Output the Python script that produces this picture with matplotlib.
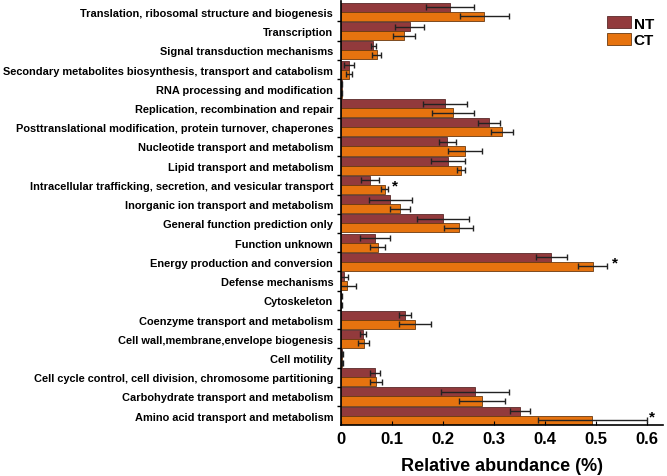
import numpy as np
import matplotlib
matplotlib.use("Agg")
import matplotlib.pyplot as plt

# categories listed top -> bottom as in the figure
categories = [
    "Translation, ribosomal structure and biogenesis",
    "Transcription",
    "Signal transduction mechanisms",
    "Secondary metabolites biosynthesis, transport and catabolism",
    "RNA processing and modification",
    "Replication, recombination and repair",
    "Posttranslational modification, protein turnover, chaperones",
    "Nucleotide transport and metabolism",
    "Lipid transport and metabolism",
    "Intracellular trafficking, secretion, and vesicular transport",
    "Inorganic ion transport and metabolism",
    "General function prediction only",
    "Function unknown",
    "Energy production and conversion",
    "Defense mechanisms",
    "Cytoskeleton",
    "Coenzyme transport and metabolism",
    "Cell wall,membrane,envelope biogenesis",
    "Cell motility",
    "Cell cycle control, cell division, chromosome partitioning",
    "Carbohydrate transport and metabolism",
    "Amino acid transport and metabolism",
]

nt_mean = [0.214, 0.135, 0.064, 0.016, 0.002, 0.205, 0.291, 0.209, 0.210, 0.057,
           0.097, 0.200, 0.067, 0.413, 0.006, 0.001, 0.126, 0.043, 0.003, 0.067,
           0.263, 0.352]
nt_err = [0.047, 0.029, 0.005, 0.010, 0.001, 0.043, 0.022, 0.017, 0.034, 0.018,
          0.042, 0.051, 0.029, 0.031, 0.008, 0.001, 0.011, 0.006, 0.001, 0.009,
          0.066, 0.020]
ct_mean = [0.281, 0.124, 0.070, 0.016, 0.002, 0.220, 0.316, 0.244, 0.235, 0.086,
           0.116, 0.231, 0.072, 0.494, 0.013, 0.001, 0.146, 0.045, 0.003, 0.069,
           0.277, 0.493]
ct_err = [0.048, 0.022, 0.009, 0.005, 0.001, 0.041, 0.022, 0.033, 0.008, 0.007,
          0.020, 0.029, 0.015, 0.028, 0.017, 0.001, 0.031, 0.011, 0.001, 0.012,
          0.045, 0.107]

# significance marks: (category, x position)
stars = [("Intracellular trafficking, secretion, and vesicular transport", 0.107),
         ("Energy production and conversion", 0.537),
         ("Amino acid transport and metabolism", 0.610)]

nt_color = "#923a3c"
ct_color = "#e6730f"

plt.rcParams["font.family"] = ["Liberation Sans", "DejaVu Sans"]
plt.rcParams["font.weight"] = "bold"

n = len(categories)
pos = np.arange(n)[::-1]  # top category gets highest position
h = 0.47

fig = plt.figure(figsize=(6.67, 4.77), dpi=100)
ax = fig.add_axes([0.511, 0.107, 0.483, 0.889])

err_kw = dict(ecolor="#222222", elinewidth=1.0, capsize=2.5, capthick=1.0)
ax.barh(pos + h / 2, nt_mean, height=h, xerr=nt_err, color=nt_color,
        edgecolor="#5a2a2a", linewidth=0.6, label="NT", error_kw=err_kw)
ax.barh(pos - h / 2, ct_mean, height=h, xerr=ct_err, color=ct_color,
        edgecolor="#6a3a10", linewidth=0.6, label="CT", error_kw=err_kw)

for name, xs in stars:
    y = pos[categories.index(name)]
    ax.text(xs, y - 0.05, "*", fontsize=11, ha="center", va="center")

ax.set_xlim(0, 0.632)
ax.set_ylim(-0.48, n - 1 + 0.57)
ax.set_xticks(np.arange(0, 0.61, 0.1))
ax.set_xticklabels(["0", "0.1", "0.2", "0.3", "0.4", "0.5", "0.6"])
ax.set_yticks(pos)
ax.set_yticklabels(categories, fontsize=7.95)
ax.set_yticks(np.arange(n - 1) + 0.5, minor=True)
ax.tick_params(axis="y", which="major", length=0, pad=5.5)
ax.tick_params(axis="y", which="minor", length=3, width=1, direction="out")
ax.tick_params(axis="x", direction="in", length=3, labelsize=12, pad=4)
ax.set_xlabel("Relative abundance (%)", fontsize=13, fontweight="bold", labelpad=8)

ax.spines["top"].set_visible(False)
ax.spines["right"].set_visible(False)
ax.spines["left"].set_linewidth(1.2)
ax.spines["bottom"].set_linewidth(1.2)

ax.legend(loc="upper right", bbox_to_anchor=(1.0, 0.985), frameon=False,
          fontsize=11, handlelength=1.6, handleheight=0.8, handletextpad=0.15,
          labelspacing=0.15, borderaxespad=0.2)

fig.savefig("out.png", dpi=100)
